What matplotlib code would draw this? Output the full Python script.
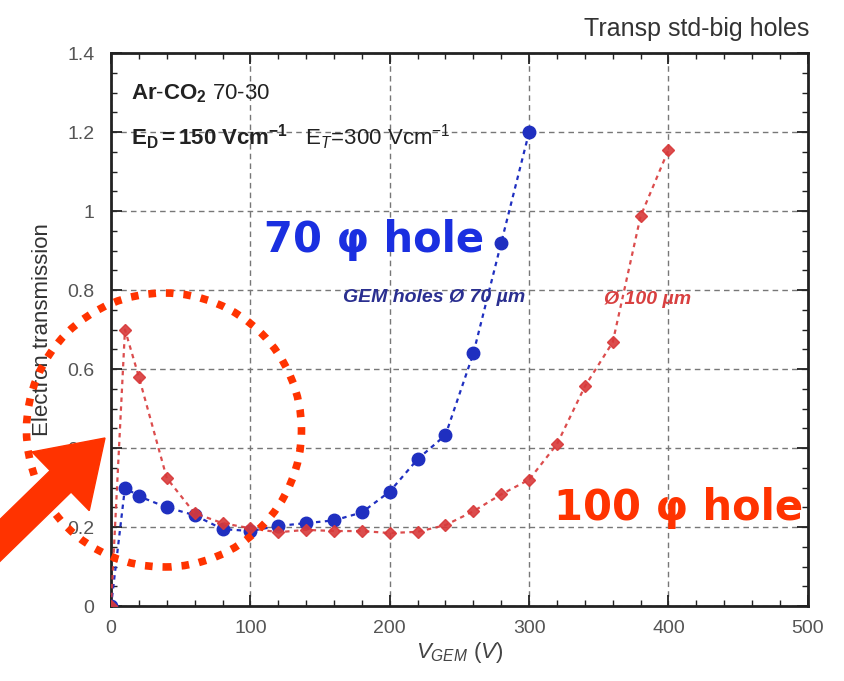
import matplotlib
matplotlib.use("Agg")
import matplotlib.pyplot as plt
from matplotlib.patches import Ellipse, FancyArrow
from matplotlib.ticker import MultipleLocator

plt.rcParams['font.family'] = ['Liberation Sans', 'DejaVu Sans']
plt.rcParams['mathtext.fontset'] = 'custom'
plt.rcParams['mathtext.rm'] = 'Liberation Sans'
plt.rcParams['mathtext.it'] = 'Liberation Sans:italic'
plt.rcParams['mathtext.bf'] = 'Liberation Sans:bold'

# GEM voltage (V) and electron transmission, 70 um holes
v_70 = [0, 10, 20, 40, 60, 80, 100, 120, 140, 160, 180, 200, 220, 240, 260, 280, 300]
t_70 = [0, 0.30, 0.278, 0.25, 0.23, 0.195, 0.19, 0.203, 0.21, 0.217, 0.237, 0.29,
        0.372, 0.433, 0.64, 0.92, 1.20]

# 100 um holes
v_100 = [0, 10, 20, 40, 60, 80, 100, 120, 140, 160, 180, 200, 220, 240, 260, 280,
         300, 320, 340, 360, 380, 400]
t_100 = [0, 0.70, 0.58, 0.324, 0.235, 0.21, 0.197, 0.187, 0.193, 0.19, 0.19, 0.185,
         0.188, 0.205, 0.24, 0.283, 0.32, 0.41, 0.556, 0.668, 0.987, 1.155]

blue = '#1f2fc0'
red = '#d8393a'

fig = plt.figure(figsize=(8.45, 6.81), dpi=100)
ax = fig.add_axes([0.1314, 0.110, 0.8246, 0.812])

ax.plot(v_70, t_70, color=blue, ls=(0, (2, 2)), lw=1.6, marker='o', ms=9,
        mec=blue, mfc=blue, zorder=3)
ax.plot(v_100, t_100, color=red, ls=(0, (2, 2)), lw=1.6, marker='D', ms=6.5,
        mec=red, mfc=red, alpha=0.9, zorder=3)

ax.set_xlim(0, 500)
ax.set_ylim(0, 1.4)
ax.xaxis.set_major_locator(MultipleLocator(100))
ax.xaxis.set_minor_locator(MultipleLocator(20))
ax.yaxis.set_major_locator(MultipleLocator(0.2))
ax.yaxis.set_minor_locator(MultipleLocator(0.05))
ax.set_yticks([0, 0.2, 0.4, 0.6, 0.8, 1.0, 1.2, 1.4])
ax.set_yticklabels(['0', '0.2', '0.4', '0.6', '0.8', '1', '1.2', '1.4'])
ax.tick_params(which='both', direction='in', top=True, right=True, colors='#222222',
               labelcolor='#555555', labelsize=14)
ax.tick_params(which='major', length=8, width=1.3)
ax.tick_params(which='minor', length=4, width=1.0)
ax.tick_params(axis='x', pad=10)
ax.tick_params(axis='y', pad=12)
ax.grid(True, which='major', color='#777777', ls=(0, (4, 3)), lw=1.0)
for s in ax.spines.values():
    s.set_linewidth(2.0)
    s.set_color('#222222')

ax.set_xlabel(r'$\mathit{V_{GEM}}$ $\mathit{(V)}$', fontsize=16, color='#444444', labelpad=2)
ax.set_ylabel('Electron transmission', fontsize=16, color='#333333', labelpad=10)

fig.text(0.958, 0.957, 'Transp std-big holes', ha='right', va='center', fontsize=18,
         color='#333333')

ax.text(0.028, 0.926, r'$\mathbf{Ar}$-$\mathbf{CO_2}$ 70-30', transform=ax.transAxes,
        fontsize=16, color='#222222', va='center')
ax.text(0.028, 0.848, r'$\mathbf{E_D=150\ Vcm^{-1}}$   E$_T$=300 Vcm$^{-1}$',
        transform=ax.transAxes, fontsize=16, color='#222222', va='center')

ax.text(232, 0.782, r'GEM holes Ø 70 µm', fontsize=14, fontweight='bold', style='italic',
        color='#2a2f90', ha='center', va='center')
ax.text(385, 0.775, r'Ø 100 µm', fontsize=14, fontweight='bold', style='italic',
        color='#d84040', ha='center', va='center')

# annotations drawn on top
ax.text(189, 0.926, '70 φ hole', fontsize=30, fontweight='bold', color='#1a2fe0',
        family='DejaVu Sans', ha='center', va='center', zorder=5)
ax.text(407, 0.248, '100 φ hole', fontsize=30, fontweight='bold', color='#ff3300',
        family='DejaVu Sans', ha='center', va='center', zorder=5)

circ = Ellipse((1.64, 6.81 - 4.30), 2.75, 2.74, transform=fig.dpi_scale_trans,
               fill=False, ec='#ff3300', lw=5.5, ls=(0, (1.0, 1.3)), zorder=6)
fig.add_artist(circ)
arr = FancyArrow(-0.15, 6.81 - 5.55, 1.20, 1.17, width=0.30, head_width=0.82,
                 head_length=0.62, length_includes_head=True,
                 transform=fig.dpi_scale_trans, color='#ff3300', zorder=6)
fig.add_artist(arr)

fig.savefig('out.png', dpi=100)
